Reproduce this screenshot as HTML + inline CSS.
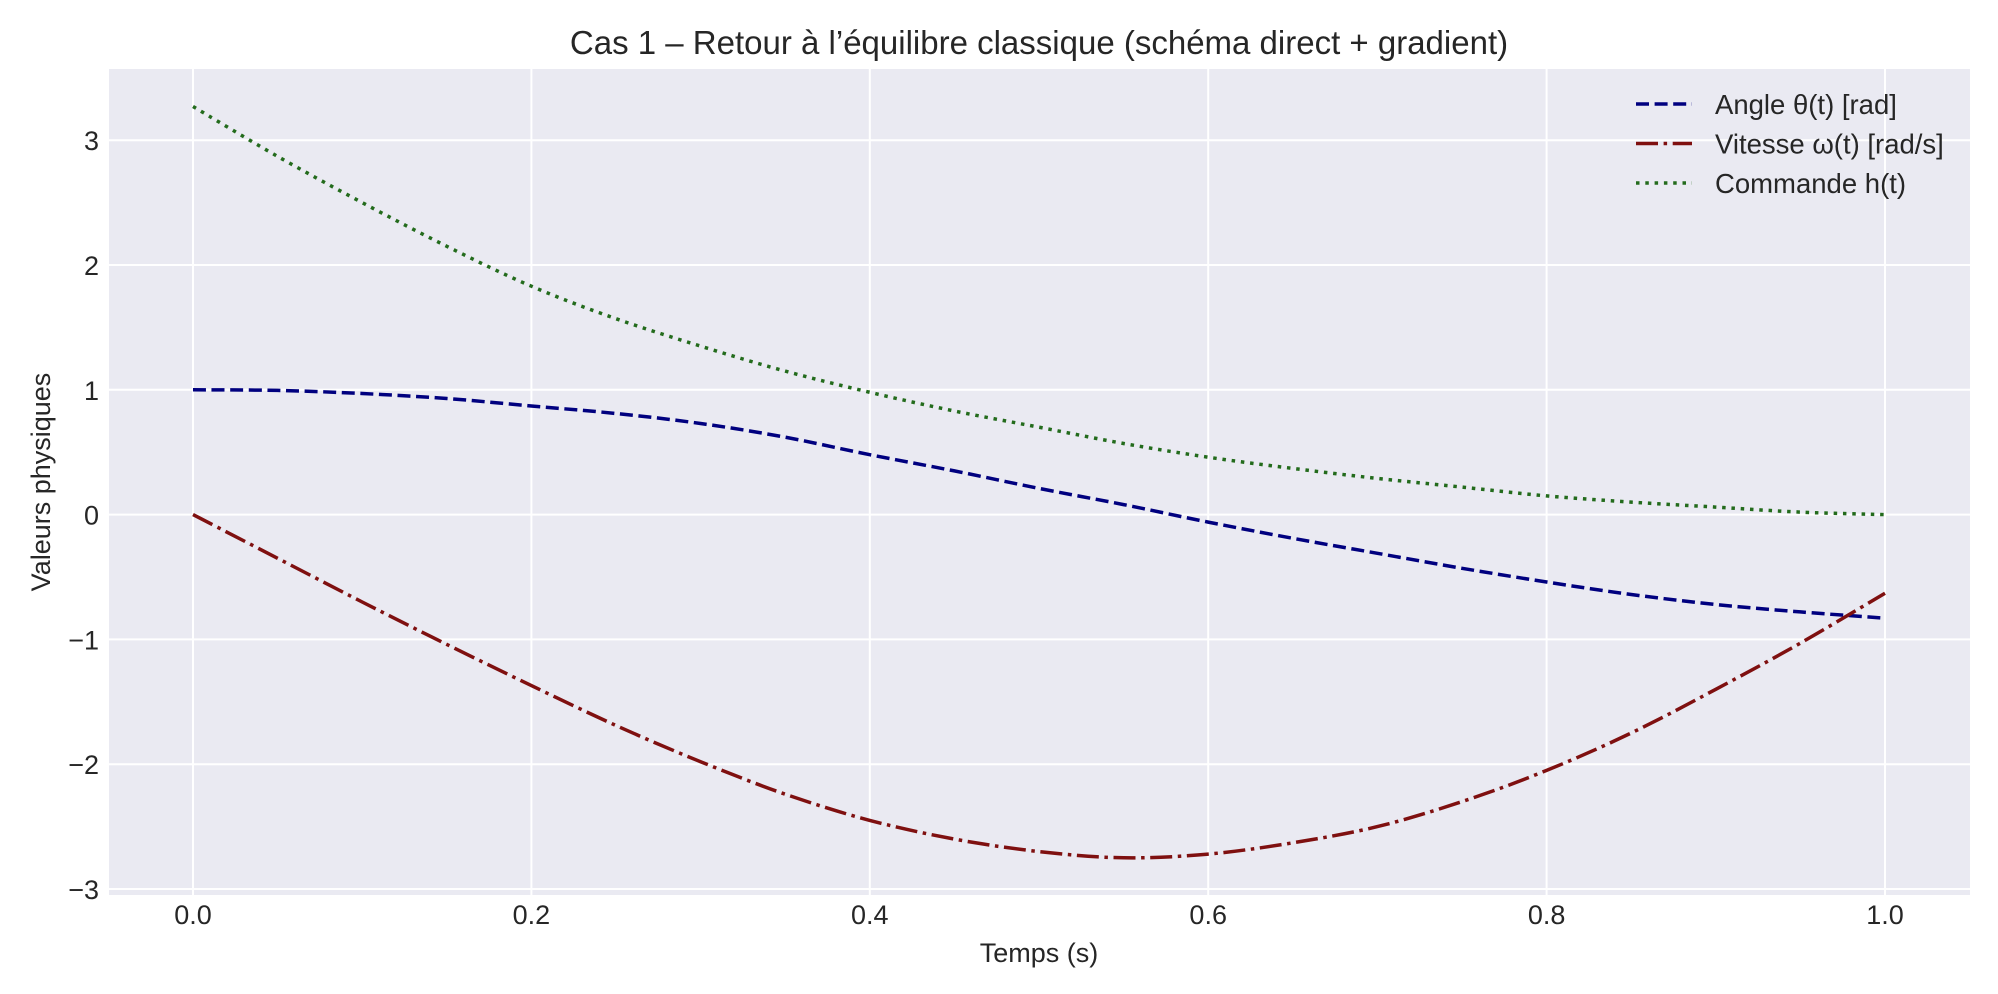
<!DOCTYPE html>
<html><head><meta charset="utf-8"><style>
html,body{margin:0;padding:0;background:#fff;}
svg{display:block;font-family:"Liberation Sans",sans-serif;}
</style></head><body>
<svg id="chart" width="1998" height="994" xmlns="http://www.w3.org/2000/svg"></svg>
<script>
const tValues=[0,0.05,0.1,0.15,0.2,0.25,0.3,0.35,0.4,0.45,0.5,0.55,0.6,0.65,0.7,0.75,0.8,0.85,0.9,0.95,1.0];
const thetaValues=[1.0,0.995,0.97,0.93,0.87,0.81,0.73,0.62,0.48,0.35,0.21,0.08,-0.06,-0.19,-0.31,-0.43,-0.54,-0.64,-0.72,-0.78,-0.83];
const omegaValues=[0,-0.35,-0.7,-1.04,-1.37,-1.69,-1.98,-2.24,-2.45,-2.6,-2.7,-2.75,-2.72,-2.63,-2.5,-2.3,-2.05,-1.75,-1.4,-1.03,-0.63];
const hValues=[3.27,2.87,2.5,2.15,1.83,1.57,1.35,1.15,0.98,0.83,0.7,0.57,0.46,0.37,0.29,0.22,0.15,0.1,0.06,0.02,0.0];
const xTicks=[0,0.2,0.4,0.6,0.8,1.0];
const xTickLabels=["0.0","0.2","0.4","0.6","0.8","1.0"];
const yTicks=[-3,-2,-1,0,1,2,3];
const yTickLabels=["\u22123","\u22122","\u22121","0","1","2","3"];

const NS="http://www.w3.org/2000/svg";
const svg=document.getElementById('chart');
const L=109,R=1970,T=69,B=895;
const xs=v=>193+(1885-193)*v;
const ys=v=>514.6-124.8*v;
function mk(tag,attrs,parent){const e=document.createElementNS(NS,tag);for(const k in attrs)e.setAttribute(k,attrs[k]);(parent||svg).appendChild(e);return e;}

const bg=mk('rect',{x:L,y:T,width:R-L,height:B-T,fill:'#eaeaf2'});



xTicks.forEach((v,i)=>{
  const g=mk('line',{x1:xs(v),x2:xs(v),y1:T,y2:B,stroke:'#fff','stroke-width':2});
  
  
  const t=mk('text',{x:xs(v),y:924,'font-size':27,fill:'#262626','text-anchor':'middle'});
  t.textContent=xTickLabels[i];
  
  
});
yTicks.forEach((v,i)=>{
  const g=mk('line',{x1:L,x2:R,y1:ys(v),y2:ys(v),stroke:'#fff','stroke-width':2});
  
  
  const t=mk('text',{x:99,y:ys(v)+10,'font-size':27,fill:'#262626','text-anchor':'end'});
  t.textContent=yTickLabels[i];
  
  
});

function series(vals,color,dash,name){
  const P=tValues.map((t,i)=>[xs(t),ys(vals[i])]);
  let d='M'+P[0][0].toFixed(1)+','+P[0][1].toFixed(1);
  for(let i=0;i<P.length-1;i++){
    const p0=P[Math.max(i-1,0)],p1=P[i],p2=P[i+1],p3=P[Math.min(i+2,P.length-1)];
    const c1=[p1[0]+(p2[0]-p0[0])/6,p1[1]+(p2[1]-p0[1])/6];
    const c2=[p2[0]-(p3[0]-p1[0])/6,p2[1]-(p3[1]-p1[1])/6];
    d+=' C'+c1[0].toFixed(1)+','+c1[1].toFixed(1)+' '+c2[0].toFixed(1)+','+c2[1].toFixed(1)+' '+p2[0].toFixed(1)+','+p2[1].toFixed(1);
  }
  const p=mk('path',{d:d,fill:'none',stroke:color,'stroke-width':3.5,'stroke-dasharray':dash,'stroke-linejoin':'round'});
  
  
}
series(thetaValues,'#00007f','13 5.6','theta-line');
series(omegaValues,'#7f1010','22 5.6 3.5 5.6','omega-line');
series(hValues,'#236b1c','3.5 5.8','h-line');

const legend=[['Angle θ(t) [rad]','#00007f','13 5.6'],['Vitesse ω(t) [rad/s]','#7f1010','22 5.6 3.5 5.6'],['Commande h(t)','#236b1c','3.5 5.8']];
legend.forEach((e,i)=>{
  const y=104+i*39.5;
  const l=mk('line',{x1:1636,x2:1692,y1:y,y2:y,stroke:e[1],'stroke-width':3.5,'stroke-dasharray':e[2]});
  
  
  const t=mk('text',{x:1715,y:y+10,'font-size':27.5,fill:'#262626'});
  t.textContent=e[0];
  
  
});

const title=mk('text',{x:1039,y:54,'font-size':33,fill:'#262626','text-anchor':'middle'});
title.textContent='Cas 1 – Retour à l’équilibre classique (schéma direct + gradient)';


const xl=mk('text',{x:1039,y:962,'font-size':27,fill:'#262626','text-anchor':'middle'});
xl.textContent='Temps (s)';


const yl=mk('text',{x:0,y:0,'font-size':27,fill:'#262626','text-anchor':'middle',transform:'translate(50,482) rotate(-90)'});
yl.textContent='Valeurs physiques';


</script>
</body></html>
